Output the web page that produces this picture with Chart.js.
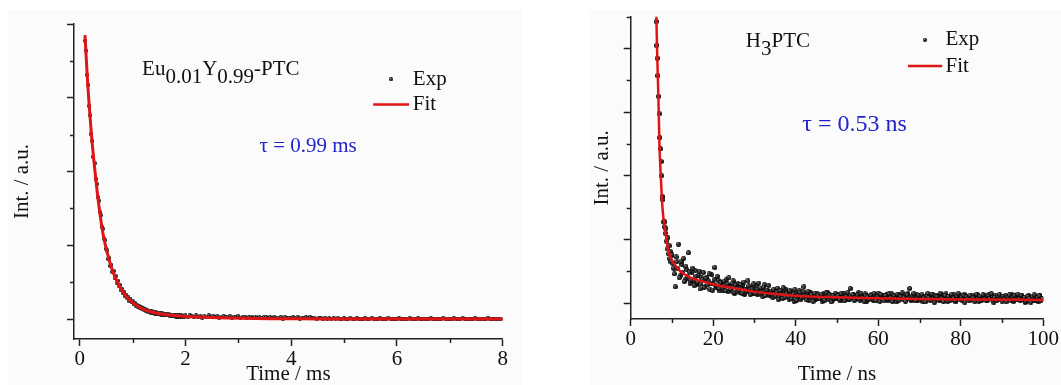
<!DOCTYPE html>
<html>
<head>
<meta charset="utf-8">
<script src="https://cdn.jsdelivr.net/npm/chart.js@4.4.1/dist/chart.umd.min.js"></script>
<style>
  html, body { margin: 0; padding: 0; background: #fff; }
  body { width: 1061px; height: 385px; position: relative; overflow: hidden; }
  .bg { position: absolute; background: #fbfbfb; }
  canvas { position: absolute; top: 0; }
</style>
</head>
<body>
<div class="bg" style="left:8px;top:10px;width:514px;height:375px"></div>
<div class="bg" style="left:589px;top:10px;width:472px;height:375px"></div>
<canvas id="left" width="530" height="385" style="left:0"></canvas>
<canvas id="right" width="531" height="385" style="left:530px"></canvas>
<script>
// ---- Eu0.01Y0.99-PTC, time in ms ----
const xTickLabelsL = ["0", "2", "4", "6", "8"];
const fitTimeL = [0.10, 0.14, 0.17, 0.22, 0.28, 0.35, 0.44, 0.52, 0.60, 0.68, 0.76, 0.85,
  0.95, 1.08, 1.24, 1.45, 1.69, 2.00, 2.33, 2.80, 3.60, 4.50, 6.00, 8.00];
const fitIntL = [7.70, 6.65, 5.98, 5.03, 4.13, 3.22, 2.32, 1.80, 1.40, 1.10, 0.87, 0.67,
  0.51, 0.36, 0.24, 0.16, 0.11, 0.07, 0.05, 0.03, 0.01, 0.005, 0.0, 0.0];
// measured points: 0.10 ms onwards every 0.02 ms, then from 2.00 ms every 0.04 ms
const expHeadStartL = 0.10, expHeadStepL = 0.02;
const expHeadL = [
  7.55, 7.28, 6.62, 6.35, 5.78, 5.52, 5.01, 4.83, 4.40, 4.22,
  3.80, 3.66, 3.30, 3.21, 2.90, 2.81, 2.50, 2.45, 2.18, 2.14,
  1.90, 1.86, 1.63, 1.66, 1.44, 1.47, 1.28, 1.30, 1.12, 1.16,
  0.99, 1.04, 0.90, 0.92, 0.78, 0.82, 0.70, 0.74, 0.62, 0.66,
  0.57, 0.59, 0.49, 0.54, 0.45, 0.48, 0.40, 0.44, 0.36, 0.39,
  0.33, 0.36, 0.29, 0.33, 0.27, 0.30, 0.24, 0.27, 0.21, 0.25,
  0.20, 0.23, 0.17, 0.21, 0.16, 0.20, 0.15, 0.18, 0.14, 0.17,
  0.13, 0.17, 0.12, 0.16, 0.11, 0.15, 0.10, 0.14, 0.10, 0.13,
  0.09, 0.12, 0.08, 0.12, 0.08, 0.11, 0.07, 0.11, 0.07, 0.10,
  0.06, 0.10, 0.06, 0.09, 0.05];
const expTailStartL = 2.00, expTailStepL = 0.04;
const expTailL = [
  0.10, 0.06, 0.11, 0.08, 0.05, 0.10, 0.07, 0.09, 0.04, 0.08,
  0.07, 0.10, 0.05, 0.08, 0.06, 0.09, 0.03, 0.07, 0.08, 0.05,
  0.06, 0.08, 0.04, 0.07, 0.05, 0.08, 0.03, 0.06, 0.07, 0.04,
  0.05, 0.07, 0.02, 0.06, 0.04, 0.07, 0.03, 0.05, 0.06, 0.02,
  0.05, 0.03, 0.06, 0.02, 0.04, 0.06, 0.01, 0.05, 0.03, 0.04,
  0.02, 0.05, 0.03, 0.06, 0.01, 0.04, 0.02, 0.05, 0.03, 0.06,
  0.02, 0.03, 0.01, 0.04, 0.02, 0.00, 0.03, 0.01, 0.02, 0.00,
  0.02, 0.01, 0.03, 0.00, 0.01, 0.02, -0.01, 0.01, 0.02, 0.00,
  0.01, 0.02, 0.00, 0.01, -0.01, 0.02, 0.00, 0.01, 0.02, 0.00,
  0.01, 0.00, 0.02, -0.01, 0.01, 0.00, 0.02, 0.01, -0.01, 0.01,
  0.00, 0.02, 0.01, 0.00, -0.01, 0.01, 0.02, 0.00, 0.01, -0.01,
  0.02, 0.00, 0.01, 0.01, -0.01, 0.00, 0.02, 0.01, 0.00, 0.01,
  -0.01, 0.01, 0.02, 0.00, 0.01, 0.00, -0.01, 0.02, 0.01, 0.00,
  0.01, 0.02, 0.00, -0.01, 0.01, 0.00, 0.01, 0.02, 0.00, 0.01,
  0.00, -0.01, 0.01, 0.02, 0.00, 0.01, 0.00, 0.01, -0.01, 0.00];

// ---- H3PTC, time in ns ----
const xTickLabelsR = ["0", "20", "40", "60", "80", "100"];
const fitTimeR = [5.9, 6.22, 6.39, 6.6, 6.8, 6.96, 7.29, 7.7, 8.1, 8.5, 9.1, 10.0, 11.1,
  12.0, 13.1, 14.5, 16.0, 18.0, 20.0, 22.5, 26.0, 30.0, 34.7, 39.0, 43.0, 48.0, 54.0,
  60.0, 66.0, 75.0, 85.0, 100.0];
const fitIntR = [10.0, 9.0, 8.0, 7.0, 6.0, 5.0, 4.0, 3.0, 2.5, 2.15, 1.67, 1.35, 1.14,
  1.0, 0.9, 0.8, 0.73, 0.66, 0.59, 0.52, 0.45, 0.36, 0.29, 0.24, 0.21, 0.19, 0.17,
  0.15, 0.14, 0.12, 0.11, 0.10];
const expHeadStartR = 6.0, expHeadStepR = 0.15;
const expHeadR = [
  9.60, 8.85, 8.10, 7.70, 7.15, 6.50, 5.95, 5.20, 4.85, 4.45,
  4.00, 3.35, 3.25, 2.55, 2.40, 2.55, 2.20, 2.35, 1.95, 1.70,
  2.05, 1.55, 1.80, 1.40, 1.62, 1.30, 1.48];
// two interleaved runs of points: 10.0, 10.4, ... and 10.2, 10.6, ...
const expBodyStartR = 10.0, expBodyStepR = 0.4;
const expBodyR = [
  1.52, 1.10, 0.51, 1.30, 1.85, 0.86, 1.22, 1.40, 0.74, 1.05,
  1.58, 0.62, 0.95, 0.70, 1.02, 0.58, 0.88, 0.45, 0.79, 0.96,
  0.52, 0.81, 0.70, 0.44, 0.89, 0.60, 1.12, 0.49, 0.72, 0.38,
  0.66, 0.41, 0.58, 0.75, 0.36, 0.55, 0.47, 0.70, 0.30, 0.52,
  0.61, 0.33, 0.48, 0.56, 0.27, 0.44, 0.70, 0.35, 0.50, 0.29,
  0.42, 0.55, 0.26, 0.38, 0.47, 0.22, 0.58, 0.33, 0.40, 0.25,
  0.36, 0.18, 0.41, 0.29, 0.47, 0.20, 0.33, 0.15, 0.38, 0.44,
  0.26, 0.12, 0.35, 0.21, 0.05, 0.30, 0.18, 0.40, 0.10, 0.27,
  0.51, 0.16, 0.28, 0.08, 0.33, 0.19, 0.24, 0.11, 0.30, 0.14,
  0.22, 0.06, 0.29, 0.17, 0.34, 0.12, 0.25, 0.09, 0.21, 0.31,
  0.13, 0.26, 0.07, 0.19, 0.30, 0.15, 0.23, 0.10, 0.46, 0.18,
  0.27, 0.11, 0.20, 0.33, 0.08, 0.24, 0.14, 0.29, 0.05, 0.21,
  0.17, 0.28, 0.09, 0.23, 0.13, 0.31, 0.06, 0.19, 0.25, 0.12,
  0.26, 0.08, 0.18, 0.30, 0.11, 0.22, 0.04, 0.27, 0.15, 0.20,
  0.10, 0.24, 0.13, 0.29, 0.46, 0.07, 0.21, 0.16, 0.28, 0.09,
  0.19, 0.25, 0.05, 0.22, 0.13, 0.30, 0.10, 0.18, 0.26, 0.03,
  0.15, 0.23, 0.08, 0.27, 0.12, 0.19, 0.29, 0.06, 0.17, 0.22,
  0.11, 0.26, 0.04, 0.20, 0.14, 0.24, 0.08, 0.28, 0.13, 0.18,
  0.07, 0.21, 0.25, 0.10, 0.16, 0.27, 0.05, 0.19, 0.12, 0.23,
  0.17, 0.09, 0.26, 0.13, 0.20, 0.03, 0.24, 0.15, 0.11, 0.22,
  0.06, 0.18, 0.24, 0.10, 0.21, 0.14, 0.27, 0.05, 0.16, 0.12,
  0.20, 0.08, 0.23, 0.13, 0.02, 0.19, 0.25, 0.11, 0.17, 0.07,
  0.21, 0.14, 0.04, 0.24, 0.12];
const expBody2StartR = 10.2, expBody2StepR = 0.4;
const expBody2R = [
  1.25, 0.92, 1.45, 1.08, 0.80, 1.32, 0.95, 0.68, 1.15, 0.83,
  0.98, 0.72, 1.10, 0.55, 0.85, 0.66, 1.00, 0.60, 0.74, 0.50,
  0.78, 0.57, 0.92, 0.63, 0.41, 0.75, 0.56, 0.84, 0.46, 0.64,
  0.48, 0.69, 0.39, 0.60, 0.80, 0.43, 0.62, 0.34, 0.57, 0.45,
  0.40, 0.58, 0.31, 0.66, 0.42, 0.37, 0.54, 0.28, 0.45, 0.60,
  0.31, 0.44, 0.63, 0.29, 0.35, 0.50, 0.24, 0.41, 0.56, 0.30,
  0.27, 0.43, 0.22, 0.35, 0.12, 0.39, 0.26, 0.48, 0.19, 0.31,
  0.20, 0.38, 0.14, 0.29, 0.42, 0.09, 0.24, 0.33, 0.17, 0.36,
  0.23, 0.10, 0.37, 0.20, 0.27, 0.06, 0.31, 0.18, 0.25, 0.13,
  0.28, 0.15, 0.09, 0.32, 0.20, 0.26, 0.04, 0.23, 0.14, 0.19,
  0.24, 0.11, 0.29, 0.16, 0.07, 0.22, 0.33, 0.12, 0.20, 0.27,
  0.09, 0.18, 0.26, 0.13, 0.31, 0.17, 0.06, 0.23, 0.19, 0.12,
  0.25, 0.14, 0.30, 0.08, 0.21, 0.16, 0.27, 0.10, 0.07, 0.24,
  0.13, 0.29, 0.17, 0.05, 0.23, 0.14, 0.28, 0.09, 0.21, 0.32,
  0.18, 0.06, 0.26, 0.15, 0.11, 0.22, 0.30, 0.08, 0.19, 0.25,
  0.12, 0.27, 0.16, 0.04, 0.21, 0.17, 0.09, 0.28, 0.14, 0.23,
  0.20, 0.10, 0.31, 0.15, 0.05, 0.24, 0.13, 0.21, 0.09, 0.27,
  0.16, 0.08, 0.22, 0.30, 0.11, 0.18, 0.25, 0.03, 0.20, 0.14,
  0.24, 0.12, 0.17, 0.06, 0.28, 0.15, 0.22, 0.09, 0.26, 0.13,
  0.08, 0.23, 0.14, 0.29, 0.10, 0.18, 0.07, 0.21, 0.27, 0.16,
  0.22, 0.13, 0.04, 0.19, 0.26, 0.09, 0.17, 0.23, 0.11, 0.28,
  0.14, 0.25, 0.10, 0.18, 0.06, 0.22, 0.15, 0.03, 0.20, 0.26,
  0.09, 0.18, 0.23, 0.07, 0.15];

const SERIF = '"Liberation Serif", "Times New Roman", serif';
const RED = "#e01414";
const BLUE = "#2323cc";
const AXIS = "#222";
const INK = "#111";

function toPoints(xs, ys) {
  return xs.map((x, i) => ({ x, y: ys[i] }));
}
function sampled(start, step, ys) {
  return ys.map((y, i) => ({ x: +(start + i * step).toFixed(3), y }));
}

// small shaded ball like the original markers
function ball(d) {
  const c = document.createElement("canvas");
  c.width = c.height = d;
  const g = c.getContext("2d");
  const r = d / 2;
  const gr = g.createRadialGradient(r * 0.7, r * 0.7, 0, r, r, r);
  gr.addColorStop(0, "#a0a0a0");
  gr.addColorStop(0.45, "#2a2a2a");
  gr.addColorStop(1, "#000");
  g.fillStyle = gr;
  g.beginPath();
  g.arc(r, r, r, 0, Math.PI * 2);
  g.fill();
  return c;
}

// minor ticks, labels, legend and tau note
const decor = {
  id: "decor",
  afterDraw(chart, args, o) {
    const { ctx } = chart;
    const xs = chart.scales.x, ys = chart.scales.y;
    const X = (v) => xs.getPixelForValue(v);
    const Y = (v) => ys.getPixelForValue(v);
    ctx.save();

    ctx.strokeStyle = AXIS;
    ctx.lineWidth = 1.5;
    ctx.beginPath();
    ys.ticks.forEach((t) => {
      if (t.value % o.yMajor !== 0) {
        const py = Math.round(Y(t.value)) + 0.5;
        ctx.moveTo(xs.left, py);
        ctx.lineTo(xs.left - 4, py);
      }
    });
    xs.ticks.forEach((t) => {
      if (t.value % o.xMajor !== 0) {
        const px = Math.round(X(t.value)) + 0.5;
        ctx.moveTo(px, ys.bottom);
        ctx.lineTo(px, ys.bottom + 4);
      }
    });
    ctx.stroke();

    // sample name with subscripts
    ctx.fillStyle = INK;
    ctx.textBaseline = "alphabetic";
    ctx.textAlign = "left";
    ctx.font = `${o.title.size}px ${SERIF}`;
    let tx = X(o.title.x);
    const ty = Y(o.title.y);
    o.title.parts.forEach(([s, sub]) => {
      ctx.fillText(s, tx, ty + (sub ? o.title.subShift : 0));
      tx += ctx.measureText(s).width;
    });

    // legend
    const lg = o.legend;
    ctx.font = `${lg.size}px ${SERIF}`;
    ctx.textBaseline = "middle";
    ctx.drawImage(lg.dot, X(lg.dotX) - lg.dot.width / 2, Y(lg.expY) - lg.dot.height / 2);
    ctx.fillText("Exp", X(lg.textX), Y(lg.expY));
    ctx.strokeStyle = RED;
    ctx.lineWidth = 2.5;
    ctx.beginPath();
    ctx.moveTo(X(lg.lineX0), Y(lg.fitY));
    ctx.lineTo(X(lg.lineX1), Y(lg.fitY));
    ctx.stroke();
    ctx.fillText("Fit", X(lg.textX), Y(lg.fitY));

    // lifetime
    ctx.fillStyle = BLUE;
    ctx.font = `${o.tau.size}px ${SERIF}`;
    ctx.fillText(o.tau.text, X(o.tau.x), Y(o.tau.y));
    ctx.restore();
  }
};

function decayChart(id, p) {
  const tickFont = { family: SERIF, size: 21 };
  const titleFont = { family: SERIF, size: 21, lineHeight: 1 };
  return new Chart(document.getElementById(id), {
    type: "scatter",
    data: {
      datasets: [
        {
          type: "line",
          data: p.fit,
          borderColor: RED,
          borderWidth: p.lineWidth,
          pointRadius: 0,
          cubicInterpolationMode: "monotone",
          fill: false
        },
        {
          data: p.exp,
          pointStyle: p.dot,
          pointRadius: p.dot.width / 2,
          showLine: false
        }
      ]
    },
    options: {
      responsive: false,
      animation: false,
      events: [],
      layout: { padding: p.padding },
      plugins: {
        legend: { display: false },
        tooltip: { enabled: false },
        decor: p.decor
      },
      scales: {
        x: {
          type: "linear",
          min: p.xMin,
          max: p.xMax,
          border: { color: AXIS, width: 1.5 },
          grid: {
            drawOnChartArea: false,
            tickLength: 7,
            tickWidth: 1.5,
            tickColor: (c) => (c.tick && c.tick.value % p.decor.xMajor === 0 ? AXIS : "rgba(0,0,0,0)")
          },
          ticks: {
            stepSize: p.xStep,
            includeBounds: false,
            autoSkip: false,
            maxRotation: 0,
            padding: 1,
            color: INK,
            font: tickFont,
            callback: (v) => (p.xLabels.includes(String(v)) ? String(v) : "")
          },
          title: { display: true, text: p.xTitle, color: INK, font: titleFont, padding: { top: 0, bottom: 0 } },
          afterFit: (s) => { s.height = p.xAxisH; }
        },
        y: {
          type: "linear",
          min: p.yMin,
          max: p.yMax,
          border: { color: AXIS, width: 1.5 },
          grid: {
            drawOnChartArea: false,
            tickLength: 7,
            tickWidth: 1.5,
            tickColor: (c) => (c.tick && c.tick.value % p.decor.yMajor === 0 ? AXIS : "rgba(0,0,0,0)")
          },
          ticks: { stepSize: 1, includeBounds: false, display: false },
          title: { display: true, text: "Int. / a.u.", color: INK, font: titleFont, padding: { top: p.yTitlePad, bottom: 0 } },
          afterFit: (s) => { s.width = p.yAxisW; }
        }
      }
    },
    plugins: [decor]
  });
}

const dotL = ball(4);
const dotR = ball(5);

decayChart("left", {
  fit: toPoints(fitTimeL, fitIntL),
  exp: sampled(expHeadStartL, expHeadStepL, expHeadL).concat(sampled(expTailStartL, expTailStepL, expTailL)),
  dot: dotL,
  lineWidth: 3,
  xMin: -0.108, xMax: 8, xStep: 1, xLabels: xTickLabelsL, xTitle: "Time / ms",
  yMin: -0.54, yMax: 8,
  padding: { left: 0, top: 24, right: 27.3, bottom: 0 },
  xAxisH: 46, yAxisW: 74, yTitlePad: 11.5,
  decor: {
    xMajor: 2, yMajor: 2,
    title: { x: 1.18, y: 6.61, size: 21, subShift: 8,
      parts: [["Eu", 0], ["0.01", 1], ["Y", 0], ["0.99", 1], ["-PTC", 0]] },
    legend: { size: 21, dot: ball(4), dotX: 5.89, expY: 6.5, lineX0: 5.55, lineX1: 6.23, fitY: 5.82, textX: 6.3 },
    tau: { text: "\u03c4 = 0.99 ms", x: 3.4, y: 4.67, size: 21 }
  }
});

decayChart("right", {
  fit: toPoints(fitTimeR, fitIntR),
  exp: sampled(expHeadStartR, expHeadStepR, expHeadR)
    .concat(sampled(expBodyStartR, expBodyStepR, expBodyR))
    .concat(sampled(expBody2StartR, expBody2StepR, expBody2R)),
  dot: dotR,
  lineWidth: 2.5,
  xMin: 0, xMax: 100, xStep: 10, xLabels: xTickLabelsR, xTitle: "Time / ns",
  yMin: -0.5, yMax: 9,
  padding: { left: 0, top: 16.7, right: 17.7, bottom: 0 },
  xAxisH: 66, yAxisW: 100.7, yTitlePad: 62,
  decor: {
    xMajor: 20, yMajor: 2,
    title: { x: 27.9, y: 8.05, size: 21, subShift: 8, parts: [["H", 0], ["3", 1], ["PTC", 0]] },
    legend: { size: 21, dot: ball(4), dotX: 71.3, expY: 8.27, lineX0: 67.2, lineX1: 75.5, fitY: 7.45, textX: 76.3 },
    tau: { text: "\u03c4 = 0.53 ns", x: 41.6, y: 5.6, size: 24 }
  }
});
</script>
</body>
</html>
